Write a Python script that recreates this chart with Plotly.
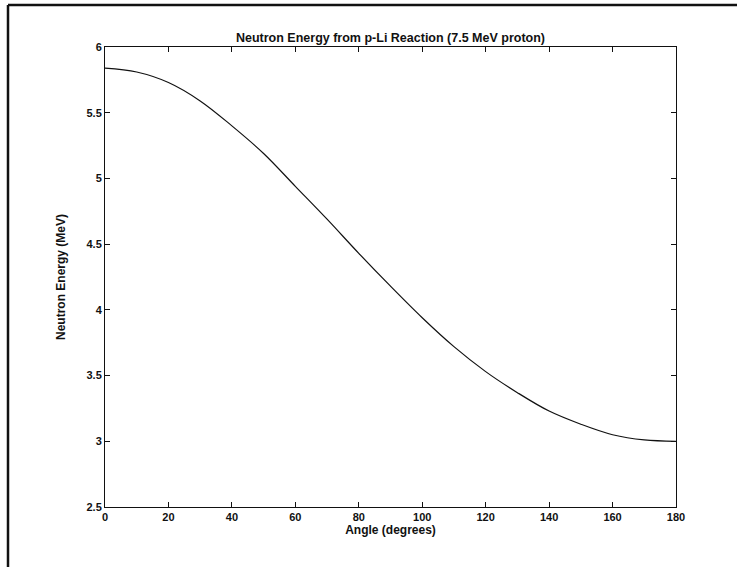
import plotly.graph_objects as go

angles = [0, 10, 20, 30, 40, 50, 60, 70, 80, 90, 100, 110, 120, 130, 140, 150, 160, 170, 180]
energy = [5.84, 5.81, 5.73, 5.59, 5.40, 5.19, 4.94, 4.69, 4.43, 4.18, 3.94, 3.72, 3.53, 3.37, 3.23, 3.13, 3.05, 3.01, 3.00]

x_ticks = [0, 20, 40, 60, 80, 100, 120, 140, 160, 180]
y_ticks = [2.5, 3, 3.5, 4, 4.5, 5, 5.5, 6]
y_tick_labels = ["2.5", "3", "3.5", "4", "4.5", "5", "5.5", "6"]

FONT = "Liberation Sans, Arial, sans-serif"

fig = go.Figure()
fig.add_trace(go.Scatter(
    x=angles, y=energy, mode="lines",
    line=dict(color="#111111", width=1.2, shape="spline"),
    showlegend=False, hoverinfo="skip"))

W, H = 737, 567
L, R, T, B = 105, 61, 47, 60
pw, ph = W - L - R, H - T - B

def px(xp):
    return (xp - L) / pw

def py(yp):
    return (H - B - yp) / ph

axis_common = dict(
    showgrid=False, zeroline=False, showline=True, linecolor="#111111", linewidth=1,
    mirror="ticks", ticks="inside", ticklen=5, tickwidth=1, tickcolor="#111111",
    tickfont=dict(family=FONT, size=11, color="#111111", weight="bold"),
)

fig.update_layout(
    width=W, height=H,
    margin=dict(l=L, r=R, t=T, b=B),
    paper_bgcolor="white", plot_bgcolor="white",
    title=dict(text="Neutron Energy from p-Li Reaction (7.5 MeV proton)",
               x=0.5 * (L + W - R) / W, xanchor="center", y=1 - 38 / H, yanchor="middle",
               font=dict(family=FONT, size=12.5, color="#111111", weight="bold")),
    xaxis=dict(range=[0, 180], tickvals=x_ticks,
               title=dict(text="Angle (degrees)", standoff=2,
                          font=dict(family=FONT, size=12, color="#111111", weight="bold")),
               **axis_common),
    yaxis=dict(range=[2.5, 6], tickvals=y_ticks, ticktext=y_tick_labels,
               title=dict(text="Neutron Energy (MeV)", standoff=18,
                          font=dict(family=FONT, size=12, color="#111111", weight="bold")),
               **axis_common),
    shapes=[
        dict(type="line", xref="paper", yref="paper", x0=px(8), x1=px(8), y0=py(5), y1=py(H),
             line=dict(color="#111111", width=2.5)),
        dict(type="line", xref="paper", yref="paper", x0=px(8), x1=px(W), y0=py(5), y1=py(5),
             line=dict(color="#111111", width=2.5)),
    ],
)

fig.write_html("out.html", config={"displayModeBar": False},
               post_script="document.body.style.margin='0';document.body.style.overflow='hidden';")
